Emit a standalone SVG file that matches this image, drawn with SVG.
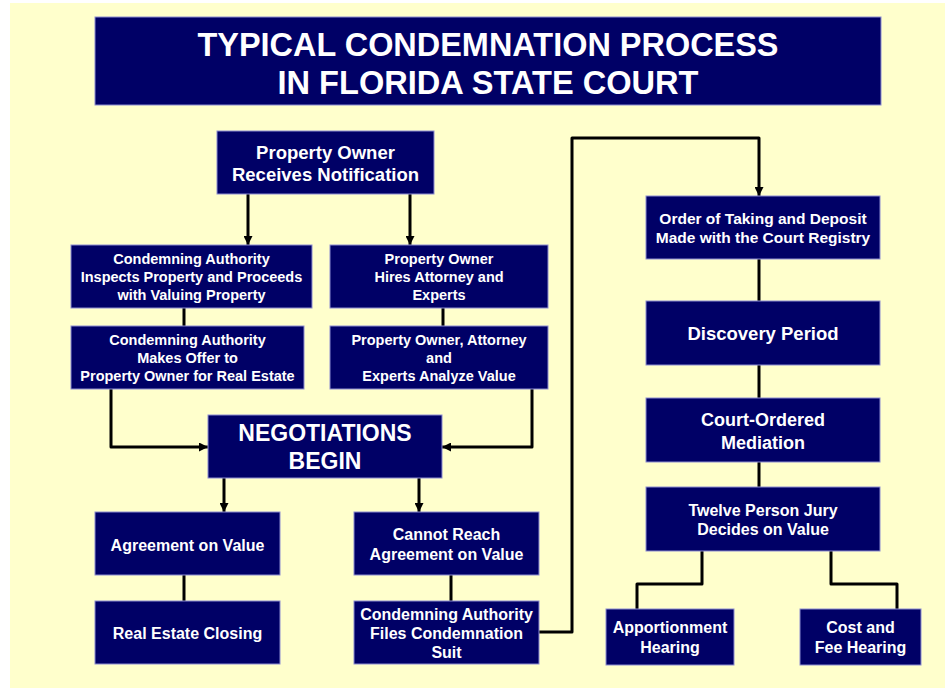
<svg xmlns="http://www.w3.org/2000/svg" width="948" height="691" viewBox="0 0 948 691">
<style>
.box{fill:#000066;stroke:#8c8cd0;stroke-width:1}
.t{font-family:"Liberation Sans",Arial,sans-serif;font-weight:bold;fill:#ffffff;text-anchor:middle}
.c{fill:none;stroke:#000000;stroke-width:3;stroke-linejoin:round;stroke-linecap:butt}
</style>
<defs>
<marker id="ah" viewBox="0 0 10 10" refX="10" refY="5" markerWidth="9" markerHeight="9" markerUnits="userSpaceOnUse" orient="auto">
<path d="M0,0 L10,5 L0,10 z" fill="#000000"/>
</marker>
</defs>
<rect x="0" y="0" width="948" height="691" fill="#ffffff"/>
<rect x="10" y="3" width="935" height="685" fill="#ffffcc"/>

<g id="title">
<rect class="box" x="95" y="17" width="786" height="88"/>
<text class="t" x="488" y="56" font-size="34" textLength="581" lengthAdjust="spacingAndGlyphs">TYPICAL CONDEMNATION PROCESS</text>
<text class="t" x="488" y="94" font-size="34" textLength="421" lengthAdjust="spacingAndGlyphs">IN FLORIDA STATE COURT</text>
</g>

<g id="connectors">
<path class="c" d="M248,194 V245" marker-end="url(#ah)"/>
<path class="c" d="M410,194 V245" marker-end="url(#ah)"/>
<path class="c" d="M184,308 V326"/>
<path class="c" d="M443,308 V326"/>
<path class="c" d="M111,389 V447 H208" marker-end="url(#ah)"/>
<path class="c" d="M532,389 V447 H442" marker-end="url(#ah)"/>
<path class="c" d="M224,478 V512" marker-end="url(#ah)"/>
<path class="c" d="M419,478 V512" marker-end="url(#ah)"/>
<path class="c" d="M184,575 V601"/>
<path class="c" d="M451,575 V601"/>
<path class="c" d="M539,632 H572 V138 H759 V196" marker-end="url(#ah)"/>
<path class="c" d="M759,259 V301"/>
<path class="c" d="M759,365 V398"/>
<path class="c" d="M759,462 V487"/>
<path class="c" d="M702,551 V584 H637 V609"/>
<path class="c" d="M831,551 V584 H897 V609"/>
</g>

<g id="notification">
<rect class="box" x="217" y="131" width="217" height="63"/>
<text class="t" x="325.5" y="159" font-size="18.5">Property Owner</text>
<text class="t" x="325.5" y="181" font-size="18.5">Receives Notification</text>
</g>

<g id="inspects">
<rect class="box" x="71" y="245" width="241" height="63"/>
<text class="t" x="191.5" y="264" font-size="14.5">Condemning Authority</text>
<text class="t" x="191.5" y="282" font-size="14.5">Inspects Property and Proceeds</text>
<text class="t" x="191.5" y="300" font-size="14.5">with Valuing Property</text>
</g>

<g id="hires">
<rect class="box" x="330" y="245" width="218" height="63"/>
<text class="t" x="439" y="264" font-size="14.5">Property Owner</text>
<text class="t" x="439" y="282" font-size="14.5">Hires Attorney and</text>
<text class="t" x="439" y="300" font-size="14.5">Experts</text>
</g>

<g id="offer">
<rect class="box" x="71" y="326" width="233" height="63"/>
<text class="t" x="187.5" y="345" font-size="14.5">Condemning Authority</text>
<text class="t" x="187.5" y="363" font-size="14.5">Makes Offer to</text>
<text class="t" x="187.5" y="381" font-size="14.5">Property Owner for Real Estate</text>
</g>

<g id="analyze">
<rect class="box" x="330" y="326" width="218" height="63"/>
<text class="t" x="439" y="345" font-size="14.5">Property Owner, Attorney</text>
<text class="t" x="439" y="363" font-size="14.5">and</text>
<text class="t" x="439" y="381" font-size="14.5">Experts Analyze Value</text>
</g>

<g id="negotiations">
<rect class="box" x="208" y="415" width="234" height="63"/>
<text class="t" x="325" y="441" font-size="23">NEGOTIATIONS</text>
<text class="t" x="325" y="469" font-size="23">BEGIN</text>
</g>

<g id="agreement">
<rect class="box" x="95" y="512" width="185" height="63"/>
<text class="t" x="187.5" y="551" font-size="16">Agreement on Value</text>
</g>

<g id="closing">
<rect class="box" x="95" y="601" width="185" height="63"/>
<text class="t" x="187.5" y="639" font-size="16">Real Estate Closing</text>
</g>

<g id="cannot">
<rect class="box" x="354" y="512" width="185" height="63"/>
<text class="t" x="446.5" y="540" font-size="16">Cannot Reach</text>
<text class="t" x="446.5" y="560" font-size="16">Agreement on Value</text>
</g>

<g id="files">
<rect class="box" x="354" y="601" width="185" height="63"/>
<text class="t" x="446.5" y="620" font-size="16">Condemning Authority</text>
<text class="t" x="446.5" y="639" font-size="16">Files Condemnation</text>
<text class="t" x="446.5" y="658" font-size="16">Suit</text>
</g>

<g id="order">
<rect class="box" x="646" y="196" width="234" height="63"/>
<text class="t" x="763" y="224" font-size="15.5">Order of Taking and Deposit</text>
<text class="t" x="763" y="243" font-size="15.5">Made with the Court Registry</text>
</g>

<g id="discovery">
<rect class="box" x="646" y="301" width="234" height="64"/>
<text class="t" x="763" y="340" font-size="18.5">Discovery Period</text>
</g>

<g id="mediation">
<rect class="box" x="646" y="398" width="234" height="64"/>
<text class="t" x="763" y="426" font-size="18">Court-Ordered</text>
<text class="t" x="763" y="449" font-size="18">Mediation</text>
</g>

<g id="jury">
<rect class="box" x="646" y="487" width="234" height="64"/>
<text class="t" x="763" y="516" font-size="16">Twelve Person Jury</text>
<text class="t" x="763" y="535" font-size="16">Decides on Value</text>
</g>

<g id="apportionment">
<rect class="box" x="606" y="609" width="128" height="56"/>
<text class="t" x="670" y="633" font-size="16">Apportionment</text>
<text class="t" x="670" y="653" font-size="16">Hearing</text>
</g>

<g id="costfee">
<rect class="box" x="800" y="609" width="121" height="56"/>
<text class="t" x="860.5" y="633" font-size="16">Cost and</text>
<text class="t" x="860.5" y="653" font-size="16">Fee Hearing</text>
</g>
</svg>
